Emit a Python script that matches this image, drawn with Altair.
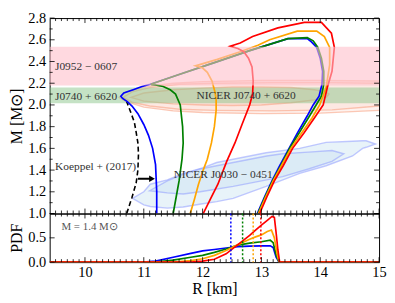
import altair as alt
import pandas as pd

# ---------------- data ----------------
W, H1, H2 = 332, 197, 49
R_DOMAIN = [9.4, 15.0]
M_DOMAIN = [1.0, 2.8]
PDF_DOMAIN = [0.0, 1.0]

colors = {"blue": "#0000ff", "green": "#008000", "orange": "#ffa500", "red": "#ff0000"}

# mass-radius contour boundaries
blue_R = [11.22, 11.22, 11.2, 11.15, 11.08, 11.0, 10.9, 10.8, 10.72, 10.64, 10.61, 10.66, 10.82, 10.97, 11.11,
          11.6, 12.2, 12.8, 13.45, 13.78, 13.85, 13.94, 14.0, 14.04, 14.03, 13.98, 13.88, 13.78, 13.62, 13.47,
          13.3, 13.18, 13.05, 12.93]
blue_M = [1.0, 1.2, 1.45, 1.6, 1.72, 1.82, 1.92, 1.99, 2.03, 2.06, 2.08, 2.11, 2.14, 2.17, 2.19,
          2.28, 2.39, 2.5, 2.61, 2.61, 2.58, 2.53, 2.43, 2.31, 2.19, 2.08, 2.0, 1.9, 1.75, 1.6,
          1.43, 1.3, 1.15, 1.0]
green_R = [11.5, 11.55, 11.6, 11.65, 11.67, 11.66, 11.62, 11.54, 11.45, 11.33, 11.2, 11.12,
           11.6, 12.2, 12.8, 13.45, 13.78, 13.88, 13.96, 14.02, 14.06, 14.06, 14.02, 13.93, 13.82,
           13.65, 13.48, 13.32, 13.19, 13.06, 12.94]
green_M = [1.0, 1.15, 1.3, 1.5, 1.65, 1.8, 2.0, 2.1, 2.14, 2.17, 2.185, 2.19,
           2.28, 2.39, 2.5, 2.61, 2.62, 2.59, 2.53, 2.43, 2.31, 2.19, 2.08, 2.0, 1.9,
           1.75, 1.6, 1.43, 1.3, 1.15, 1.0]
orange_R = [11.79, 11.86, 11.93, 12.01, 12.08, 12.15, 12.2, 12.23, 12.23, 12.21, 12.16, 12.08, 12.0, 11.88,
            12.25, 12.64, 12.94, 13.14, 13.61, 13.94, 14.07, 14.16, 14.16, 14.1, 13.99, 13.86, 13.68,
            13.5, 13.34, 13.2, 13.07, 12.95]
orange_M = [1.0, 1.13, 1.27, 1.4, 1.5, 1.65, 1.8, 1.95, 2.05, 2.12, 2.22, 2.3, 2.34, 2.36,
            2.42, 2.49, 2.55, 2.6, 2.68, 2.68, 2.63, 2.53, 2.37, 2.16, 2.0, 1.88, 1.74,
            1.6, 1.44, 1.3, 1.15, 1.0]
red_R = [12.01, 12.13, 12.26, 12.41, 12.55, 12.67, 12.8, 12.85, 12.86, 12.84, 12.78, 12.7, 12.6, 12.47,
         12.64, 12.85, 13.28, 13.73, 14.02, 14.19, 14.24, 14.2, 14.12, 14.05, 13.9, 13.72, 13.53,
         13.37, 13.22, 13.09, 12.97]
red_M = [1.0, 1.13, 1.27, 1.48, 1.65, 1.82, 2.0, 2.1, 2.22, 2.35, 2.43, 2.49, 2.52, 2.54,
         2.57, 2.63, 2.71, 2.76, 2.76, 2.66, 2.53, 2.31, 2.16, 2.0, 1.88, 1.74, 1.6,
         1.44, 1.3, 1.15, 1.0]

# Koeppel+ (2017) bound
koeppel_R = [10.71, 10.8, 10.87, 10.9, 10.91, 10.9, 10.87, 10.84, 10.78, 10.71]
koeppel_M = [1.0, 1.15, 1.28, 1.4, 1.55, 1.65, 1.75, 1.84, 1.93, 2.03]
arrow_R = [10.9, 11.12]
arrow_M = [1.32, 1.32]
arrow_head_R = [11.14]

# NICER J0740+6620 contours
j0740_o1_R = [10.58, 10.7, 11.0, 11.5, 12.0, 13.0, 14.0, 15.0, 15.3]
j0740_o1_hi = [2.07, 2.12, 2.165, 2.2, 2.215, 2.225, 2.225, 2.22, 2.22]
j0740_o1_lo = [2.07, 2.03, 1.98, 1.945, 1.93, 1.92, 1.925, 1.95, 1.955]
j0740_o2_R = [10.65, 10.8, 11.1, 11.6, 12.2, 13.2, 14.2, 15.0, 15.3]
j0740_o2_hi = [2.07, 2.12, 2.16, 2.19, 2.2, 2.205, 2.205, 2.2, 2.2]
j0740_o2_lo = [2.07, 2.025, 1.99, 1.96, 1.95, 1.945, 1.955, 1.99, 2.0]
j0740_in_R = [10.78, 11.0, 11.5, 12.0, 12.5, 13.0, 13.5, 13.9, 14.1, 14.15]
j0740_in_hi = [2.07, 2.11, 2.14, 2.155, 2.165, 2.165, 2.16, 2.14, 2.12, 2.1]
j0740_in_lo = [2.07, 2.035, 2.01, 2.0, 1.995, 2.0, 2.02, 2.045, 2.07, 2.1]

# NICER J0030-0451 contours
j0030_o_R = [10.81, 11.0, 11.11, 11.4, 11.67, 12.0, 12.24, 12.52, 13.08, 13.65, 14.1, 14.55, 14.72, 14.78, 14.94]
j0030_o_hi = [1.14, 1.2, 1.27, 1.31, 1.37, 1.42, 1.47, 1.5, 1.56, 1.6, 1.655, 1.665, 1.67, 1.67, 1.64]
j0030_o_lo = [1.14, 1.08, 1.065, 1.05, 1.06, 1.09, 1.11, 1.14, 1.25, 1.37, 1.44, 1.53, 1.6, 1.61, 1.64]
j0030_in_R = [11.1, 11.4, 11.67, 11.96, 12.52, 13.09, 13.36, 13.8, 14.2, 14.4]
j0030_in_hi = [1.21, 1.3, 1.36, 1.41, 1.47, 1.53, 1.55, 1.565, 1.58, 1.55]
j0030_in_lo = [1.21, 1.19, 1.18, 1.2, 1.25, 1.31, 1.34, 1.41, 1.48, 1.55]

# mass bands
band_names = ["J0952", "J0740"]
band_lo = [2.18, 2.015]
band_hi = [2.535, 2.16]

# PDF of R at M = 1.4
pdf_blue_R = [9.4, 11.0, 11.2, 11.5, 11.8, 12.0, 12.2, 12.4, 12.6, 12.8, 13.0, 13.15, 13.2, 13.25, 13.3, 15.0]
pdf_blue = [0, 0, 0.02, 0.1, 0.18, 0.23, 0.26, 0.29, 0.32, 0.33, 0.335, 0.335, 0.3, 0.1, 0, 0]
pdf_green_R = [9.4, 11.2, 11.5, 11.8, 12.0, 12.2, 12.4, 12.6, 12.8, 13.0, 13.15, 13.2, 13.25, 13.3, 15.0]
pdf_green = [0, 0, 0.04, 0.1, 0.14, 0.2, 0.27, 0.35, 0.39, 0.42, 0.45, 0.4, 0.15, 0, 0]
pdf_orange_R = [9.4, 11.5, 11.8, 12.0, 12.2, 12.4, 12.6, 12.8, 12.9, 13.0, 13.1, 13.17, 13.22, 13.27, 13.3, 15.0]
pdf_orange = [0, 0, 0.03, 0.07, 0.14, 0.24, 0.36, 0.47, 0.52, 0.56, 0.63, 0.66, 0.5, 0.15, 0, 0]
pdf_red_R = [9.4, 11.8, 12.0, 12.2, 12.4, 12.6, 12.8, 12.9, 13.0, 13.1, 13.18, 13.22, 13.25, 13.28, 13.31, 15.0]
pdf_red = [0, 0, 0.02, 0.06, 0.17, 0.36, 0.55, 0.66, 0.76, 0.86, 0.94, 0.92, 0.6, 0.25, 0, 0]
median_R = [12.48, 12.68, 12.86, 12.99]
median_names = ["blue", "green", "orange", "red"]

# ticks and labels
x_labels = [10, 11, 12, 13, 14, 15]
x_minor = [round(9.5 + 0.1 * i, 1) for i in range(55) if round(9.5 + 0.1 * i, 1) not in x_labels]
m_labels = [1.0, 1.2, 1.4, 1.6, 1.8, 2.0, 2.2, 2.4, 2.6, 2.8]
m_minor = [1.1, 1.3, 1.5, 1.7, 1.9, 2.1, 2.3, 2.5, 2.7]
pdf_labels = [0.0, 0.5]
pdf_ticks = [0.0, 0.5, 1.0]

SERIF = "Liberation Serif"
TXT = "#333333"

# ---------------- helpers ----------------
xs = alt.Scale(domain=R_DOMAIN, nice=False, zero=False)
ms = alt.Scale(domain=M_DOMAIN, nice=False, zero=False)
ps = alt.Scale(domain=PDF_DOMAIN, nice=False, zero=False)

x_axis_bottom = alt.Axis(values=x_labels, format="d", ticks=False, domain=False, grid=False,
                         labelFont=SERIF, labelFontSize=14.5, labelColor="black", labelPadding=3,
                         labelFlush=False, title="R [km]", titleFont=SERIF, titleFontSize=16,
                         titleFontWeight="normal", titleColor="black", titlePadding=2)
y_axis_kw = dict(ticks=False, domain=False, grid=False, labelFont=SERIF, labelFontSize=14.5,
                 labelColor="black", labelPadding=4, titleFont=SERIF, titleFontSize=16,
                 titleFontWeight="normal", titleColor="black", titlePadding=3,
                 minExtent=22, maxExtent=22, labelFlush=False)
m_axis = alt.Axis(values=m_labels, format=".1f", title="M [M⊙]", **y_axis_kw)
p_axis = alt.Axis(values=pdf_labels, format=".1f", title="PDF", **y_axis_kw)


def X(field, bottom):
    return alt.X(field, type="quantitative", scale=xs, axis=x_axis_bottom if bottom else None)


def YM(field):
    return alt.Y(field, type="quantitative", scale=ms, axis=m_axis)


def YP(field):
    return alt.Y(field, type="quantitative", scale=ps, axis=p_axis)


def tick_layers(h, yfun, y_major, y_minor, bottom):
    layers = []
    for vals, ln in ((x_labels, 5), (x_minor, 3)):
        d = pd.DataFrame({"t": vals})
        layers.append(alt.Chart(d).mark_rule(color="black", strokeWidth=0.8).encode(
            x=X("t", bottom), y=alt.value(0), y2=alt.value(ln)))
        layers.append(alt.Chart(d).mark_rule(color="black", strokeWidth=0.8).encode(
            x=X("t", bottom), y=alt.value(h), y2=alt.value(h - ln)))
    for vals, ln in ((y_major, 5), (y_minor, 3)):
        if not vals:
            continue
        d = pd.DataFrame({"t": vals})
        layers.append(alt.Chart(d).mark_rule(color="black", strokeWidth=0.8).encode(
            y=yfun("t"), x=alt.value(0), x2=alt.value(ln)))
        layers.append(alt.Chart(d).mark_rule(color="black", strokeWidth=0.8).encode(
            y=yfun("t"), x=alt.value(W), x2=alt.value(W - ln)))
    return layers


def contour(R, lo, hi, fill, stroke, fop):
    d = pd.DataFrame({"R": R, "lo": lo, "hi": hi})
    return alt.Chart(d).mark_area(clip=True, fill=fill, fillOpacity=fop, stroke=stroke,
                                  strokeOpacity=0.55, strokeWidth=1.4).encode(
        x=X("R", False), y=YM("lo"), y2=alt.Y2("hi"))


def path(R, M, color, width=1.7, dash=None):
    d = pd.DataFrame({"R": R, "M": M, "i": list(range(len(R)))})
    kw = dict(clip=True, color=color, strokeWidth=width)
    if dash:
        kw["strokeDash"] = dash
    return alt.Chart(d).mark_line(**kw).encode(x=X("R", False), y=YM("M"), order="i:Q")


def label(R, M, text, align="left", size=11.5):
    d = pd.DataFrame({"R": [R], "M": [M], "t": [text]})
    return alt.Chart(d).mark_text(font=SERIF, fontSize=size, color=TXT, align=align,
                                  baseline="middle").encode(x=X("R", False), y=YM("M"), text="t:N")


# ---------------- top panel ----------------
top_layers = [
    contour(j0740_o1_R, j0740_o1_lo, j0740_o1_hi, "#f9a88a", "#f79c7c", 0.15),
    contour(j0740_o2_R, j0740_o2_lo, j0740_o2_hi, "#f9a88a", "#f79c7c", 0.12),
    contour(j0740_in_R, j0740_in_lo, j0740_in_hi, "#f9a88a", "#f79c7c", 0.15),
    contour(j0030_o_R, j0030_o_lo, j0030_o_hi, "#bcdcef", "#8f9cff", 0.35),
    contour(j0030_in_R, j0030_in_lo, j0030_in_hi, "#bcdcef", "#8f9cff", 0.3),
]
bands = pd.DataFrame({"name": band_names, "lo": band_lo, "hi": band_hi})
top_layers.append(alt.Chart(bands[bands.name == "J0740"]).mark_rect(color="#8cc68c", opacity=0.5)
                  .encode(y=YM("lo"), y2=alt.Y2("hi")))
top_layers.append(path(koeppel_R, koeppel_M, "black", 1.6, [5, 3]))
top_layers.append(path(arrow_R, arrow_M, "black", 2.2))
top_layers.append(alt.Chart(pd.DataFrame({"R": arrow_head_R, "M": [arrow_M[0]]}))
                  .mark_point(shape="triangle-right", filled=True, color="black", size=45, opacity=1)
                  .encode(x=X("R", False), y=YM("M")))
for nm, R, M in (("blue", blue_R, blue_M), ("green", green_R, green_M),
                 ("orange", orange_R, orange_M), ("red", red_R, red_M)):
    top_layers.append(path(R, M, colors[nm], 1.7))
top_layers.append(alt.Chart(bands[bands.name == "J0952"]).mark_rect(color="#ffc0cb", opacity=0.6)
                  .encode(y=YM("lo"), y2=alt.Y2("hi")))
top_layers += [
    label(9.49, 2.345, "J0952 − 0607"),
    label(9.49, 2.075, "J0740 + 6620"),
    label(12.74, 2.08, "NICER J0740 + 6620", "center"),
    label(12.35, 1.35, "NICER J0030 − 0451", "center"),
    label(10.87, 1.43, "Koeppel + (2017)", "right"),
]
top_layers += tick_layers(H1, YM, m_labels, m_minor, False)
top = alt.layer(*top_layers).properties(width=W, height=H1)

# ---------------- bottom panel ----------------
bot_layers = []
for nm, R, P in (("blue", pdf_blue_R, pdf_blue), ("green", pdf_green_R, pdf_green),
                 ("orange", pdf_orange_R, pdf_orange), ("red", pdf_red_R, pdf_red)):
    d = pd.DataFrame({"R": R, "P": P})
    bot_layers.append(alt.Chart(d).mark_line(clip=True, color=colors[nm], strokeWidth=1.7)
                      .encode(x=X("R", True), y=YP("P")))
for nm, r in zip(median_names, median_R):
    bot_layers.append(alt.Chart(pd.DataFrame({"R": [r]}))
                      .mark_rule(color=colors[nm], strokeWidth=1.5, strokeDash=[2, 2])
                      .encode(x=X("R", True)))
bot_layers.append(alt.Chart(pd.DataFrame({"R": [9.6], "P": [0.72], "t": ["M = 1.4 M⊙"]}))
                  .mark_text(font=SERIF, fontSize=11, color="#555555", align="left", baseline="middle")
                  .encode(x=X("R", True), y=YP("P"), text="t:N"))
bot_layers += tick_layers(H2, YP, pdf_ticks, [], True)
bottom = alt.layer(*bot_layers).properties(width=W, height=H2)

chart = alt.vconcat(top, bottom, spacing=0, bounds="flush").properties(
    padding={"left": 0, "top": 0, "right": 0, "bottom": 0}
).configure_view(stroke="black", strokeWidth=1).configure_concat(spacing=0)

chart.save("out.html", embed_options={"renderer": "svg", "actions": False})
